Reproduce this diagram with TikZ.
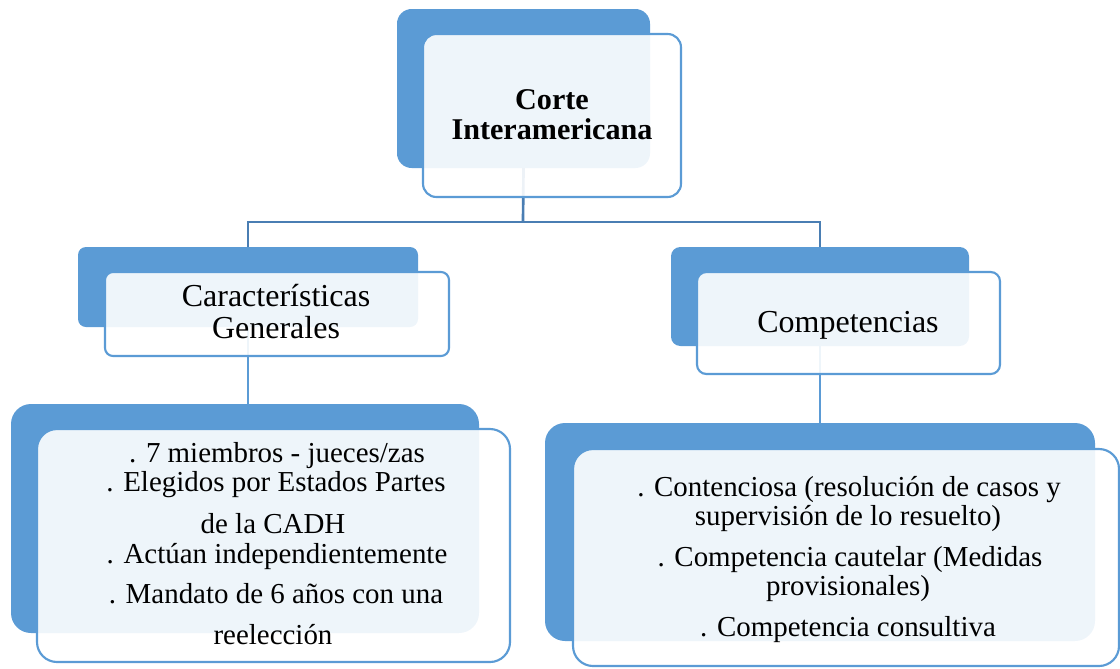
\documentclass[tikz,border=0pt]{standalone}
\usepackage{fontspec}
\setmainfont{Liberation Serif}
\definecolor{accblue}{HTML}{5B9BD5}
\definecolor{connblue}{HTML}{4A7EB3}
\tikzset{
  backbox/.style={fill=accblue, draw=none, inner sep=0pt, outer sep=0pt},
  frontbox/.style={draw=accblue, line width=1.6pt, fill=white, fill opacity=0.9, inner sep=0pt, outer sep=0pt},
  conn/.style={draw=connblue, line width=2pt},
  conntwo/.style={draw=accblue, line width=2pt},
  lbl/.style={anchor=base, inner sep=0pt, font=\fontsize{21.7}{26}\selectfont},
  clbl/.style={anchor=base, inner sep=0pt, font=\fontsize{24}{28}\selectfont},
  blbl/.style={anchor=base, inner sep=0pt, font=\fontsize{22.6}{27}\selectfont\bfseries},
}
\begin{document}
\begin{tikzpicture}[x=0.75pt, y=-0.75pt]
\useasboundingbox (0,0) rectangle (1120,668);
% back boxes
\node[backbox, rounded corners=11pt, minimum width=189.75pt, minimum height=119.25pt] (topback) at (523.5,88.5) {};
\node[backbox, rounded corners=6pt, minimum width=255pt, minimum height=60pt] (lcback) at (248,287) {};
\node[backbox, rounded corners=7pt, minimum width=223.5pt, minimum height=74.25pt] (rcback) at (820,296.5) {};
\node[backbox, rounded corners=15pt, minimum width=351pt, minimum height=171.75pt] (lgback) at (245,518.5) {};
\node[backbox, rounded corners=15pt, minimum width=412.5pt, minimum height=163.5pt] (rgback) at (820,532) {};
% connectors
\coordinate (j) at (523,222);
\draw[conn] (topback.south) -- (j);
\draw[conn] (lcback.north) |- (j) -| (rcback.north);
\draw[conntwo] (lcback.south) -- (lcback.south |- lgback.north);
\draw[conntwo] (rcback.south) -- (rcback.south |- rgback.north);
% front boxes
\node[frontbox, rounded corners=10pt, minimum width=193.5pt, minimum height=122.25pt] (topfront) at (552,115.5) {};
\node[frontbox, rounded corners=6pt, minimum width=258pt, minimum height=63pt] (lcfront) at (277,314) {};
\node[frontbox, rounded corners=7pt, minimum width=227.25pt, minimum height=76.5pt] (rcfront) at (848.5,323) {};
\node[frontbox, rounded corners=15pt, minimum width=354.75pt, minimum height=174.75pt] (lgfront) at (273.5,545.5) {};
\node[frontbox, rounded corners=15pt, minimum width=409.5pt, minimum height=162.75pt] (rgfront) at (846,557.5) {};
% texts
\node[blbl] (t1) at (552,109) {Corte};
\node[blbl] (t2) at (552,139) {Interamericana};
\node[clbl] (c1) at (276,306) {Características};
\node[clbl] (c2) at (276,338) {Generales};
\node[clbl] (p1) at (848,332) {Competencias};
\node[lbl] (a1) at (277,462) {. 7 miembros - jueces/zas};
\node[lbl] (a2) at (276,491) {. Elegidos por Estados Partes};
\node[lbl] (a3) at (273,533) {de la CADH};
\node[lbl] (a4) at (277,563) {. Actúan independientemente};
\node[lbl] (a5) at (276,603) {. Mandato de 6 años con una};
\node[lbl] (a6) at (273,644) {reelección};
\node[lbl] (b1) at (849,496) {. Contenciosa (resolución de casos y};
\node[lbl] (b2) at (848,525) {supervisión de lo resuelto)};
\node[lbl] (b3) at (850,566) {. Competencia cautelar (Medidas};
\node[lbl] (b4) at (848,595) {provisionales)};
\node[lbl] (b5) at (848,636) {. Competencia consultiva};
\end{tikzpicture}
\end{document}
